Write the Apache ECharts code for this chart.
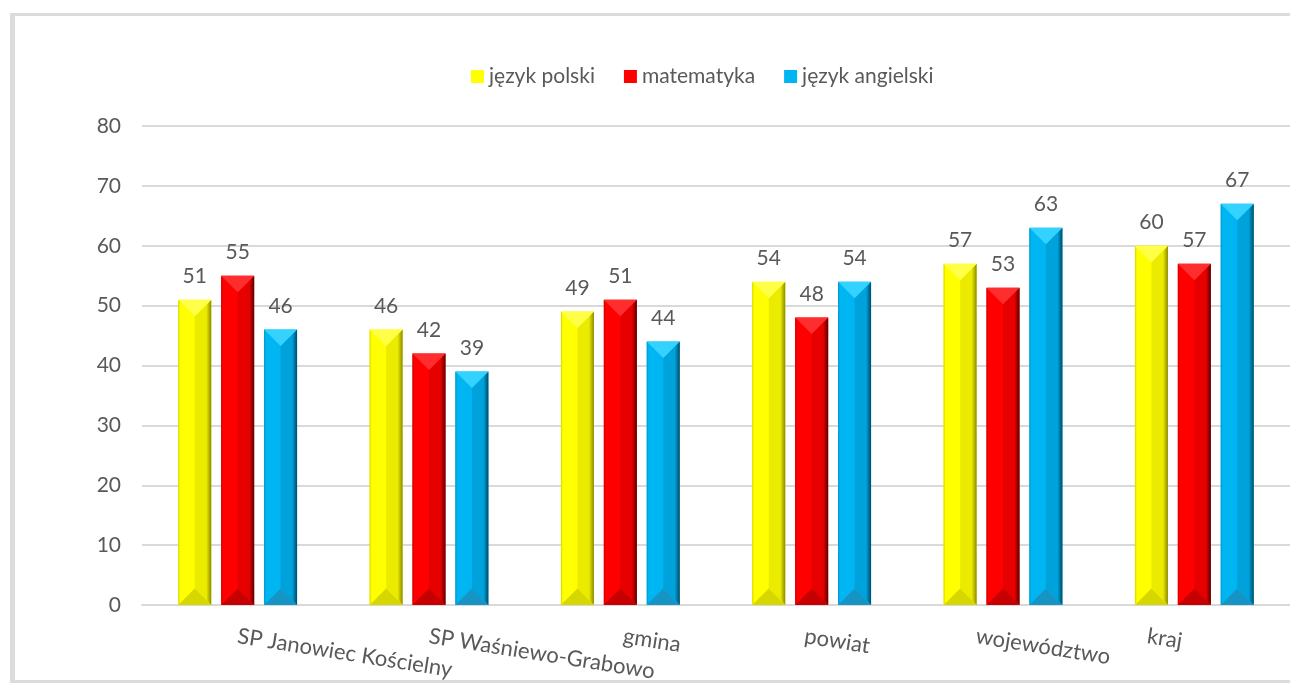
<!DOCTYPE html>
<html>
<head>
<meta charset="utf-8">
<script src="https://cdn.jsdelivr.net/npm/echarts@6/dist/echarts.min.js"></script>
<style>
  html, body { margin: 0; padding: 0; background: #ffffff; }
  #wrap { position: relative; width: 1290px; height: 684px; overflow: hidden; }
  #chart { position: absolute; left: 0; top: 0; width: 1290px; height: 684px; }
  #frame { position: absolute; left: 10px; top: 13px; width: 1300px; height: 664px;
           border: 3px solid #dcdcdc; border-left-width: 5px; box-sizing: content-box; pointer-events: none; }
</style>
</head>
<body>
<div id="wrap">
  <div id="chart"></div>
  <div id="frame"></div>
</div>
<script>
// ---- data ----
const categories = ['SP Janowiec Kościelny', 'SP Waśniewo-Grabowo', 'gmina', 'powiat', 'województwo', 'kraj'];
const seriesNames = ['język polski', 'matematyka', 'język angielski'];
const polski = [51, 46, 49, 54, 57, 60];
const matematyka = [55, 42, 51, 48, 53, 57];
const angielski = [46, 39, 44, 54, 63, 67];
const yTicks = [0, 10, 20, 30, 40, 50, 60, 70, 80];

// ---- style ----
const FONT = 'Lato';
const TEXT = '#595959';
const BAR_W = 33;
const GAP_RATIO = 0.3;
const labelShift = [0, 0, 3, -7, -27, -47]; // horizontal shift of category labels (px)
const ROT = -9;

const palettes = [
  { main: '#ffff00', edgeL: '#d6d600', rightA: '#ebeb00', rightB: '#8a8a00', top: '#ffff48', bottom: '#d6d600' },
  { main: '#ff0000', edgeL: '#d00000', rightA: '#e60000', rightB: '#5c0000', top: '#ff2e2e', bottom: '#c60000' },
  { main: '#00b6f2', edgeL: '#0096cc', rightA: '#00a2dc', rightB: '#004a68', top: '#33d2ff', bottom: '#1794c6' }
];
const dataSets = [polski, matematyka, angielski];

function bevel(sIdx) {
  const p = palettes[sIdx];
  return function (params, api) {
    const i = api.value(0), v = api.value(1);
    const topPt = api.coord([i, v]);
    const basePt = api.coord([i, 0]);
    const cx = topPt[0] + (sIdx - 1) * BAR_W * (1 + GAP_RATIO);
    const x0 = cx - BAR_W / 2, x1 = cx + BAR_W / 2;
    const yt = topPt[1], yb = basePt[1];
    const d = Math.min(BAR_W / 2, (yb - yt) / 2);
    const lin = (stops) => ({ type: 'linear', x: 0, y: 0, x2: 1, y2: 0, colorStops: stops });
    return {
      type: 'group',
      children: [
        { type: 'polygon', shape: { points: [[x0, yt], [cx, yt + d], [cx, yb - d], [x0, yb]] },
          style: { fill: lin([{ offset: 0, color: p.edgeL }, { offset: 0.12, color: p.main }, { offset: 1, color: p.main }]) } },
        { type: 'polygon', shape: { points: [[x1, yt], [cx, yt + d], [cx, yb - d], [x1, yb]] },
          style: { fill: lin([{ offset: 0, color: p.rightA }, { offset: 0.7, color: p.rightA }, { offset: 1, color: p.rightB }]) } },
        { type: 'polygon', shape: { points: [[x0, yt], [x1, yt], [cx, yt + d]] }, style: { fill: p.top } },
        { type: 'polygon', shape: { points: [[x0, yb], [x1, yb], [cx, yb - d]] }, style: { fill: p.bottom } }
      ]
    };
  };
}

const th = -ROT * Math.PI / 180;
const rich = {};
const catData = categories.map((c, k) => {
  const dx = labelShift[k];
  const lx = dx * Math.cos(th);
  const ly = -dx * Math.sin(th);
  rich['c' + k] = {
    color: TEXT, fontFamily: FONT, fontSize: 22,
    padding: [Math.max(0, 2 * ly), 0, Math.max(0, -2 * ly), 0]
  };
  return { value: c, textStyle: { padding: [0, 0, 0, lx] } };
});

const series = [];
seriesNames.forEach((name, s) => {
  series.push({
    name: name,
    type: 'bar',
    data: dataSets[s],
    barWidth: BAR_W,
    barGap: (GAP_RATIO * 100) + '%',
    itemStyle: { color: palettes[s].main },
    label: { show: true, position: 'top', distance: 13, color: TEXT, fontFamily: FONT, fontSize: 21 },
    z: 2
  });
});
seriesNames.forEach((name, s) => {
  series.push({
    name: name + ' bevel',
    type: 'custom',
    renderItem: bevel(s),
    data: dataSets[s].map((v, i) => [i, v]),
    encode: { x: 0, y: 1 },
    silent: true,
    z: 3
  });
});

const chart = echarts.init(document.getElementById('chart'), null, { renderer: 'canvas' });
chart.setOption({
  animation: false,
  backgroundColor: '#ffffff',
  textStyle: { fontFamily: FONT },
  legend: {
    data: seriesNames,
    left: 466, top: 61,
    itemWidth: 13, itemHeight: 13, itemGap: 29,
    icon: 'rect',
    textStyle: { color: TEXT, fontFamily: FONT, fontSize: 21 }
  },
  grid: { left: 142, right: -12, top: 126, bottom: 79, containLabel: false },
  xAxis: {
    type: 'category',
    data: catData,
    axisLine: { show: true, lineStyle: { color: '#d9d9d9', width: 2 } },
    axisTick: { show: false },
    axisLabel: {
      interval: 0, rotate: ROT, margin: 31, color: TEXT, fontFamily: FONT, fontSize: 22,
      formatter: (val, idx) => '{c' + idx + '|' + val + '}',
      rich: rich
    }
  },
  yAxis: {
    type: 'value',
    min: yTicks[0], max: yTicks[yTicks.length - 1], interval: 10,
    axisLine: { show: false },
    axisTick: { show: false },
    splitLine: { lineStyle: { color: '#d9d9d9', width: 2 } },
    axisLabel: { margin: 21, color: TEXT, fontFamily: FONT, fontSize: 21 }
  },
  series: series
});
</script>
</body>
</html>
